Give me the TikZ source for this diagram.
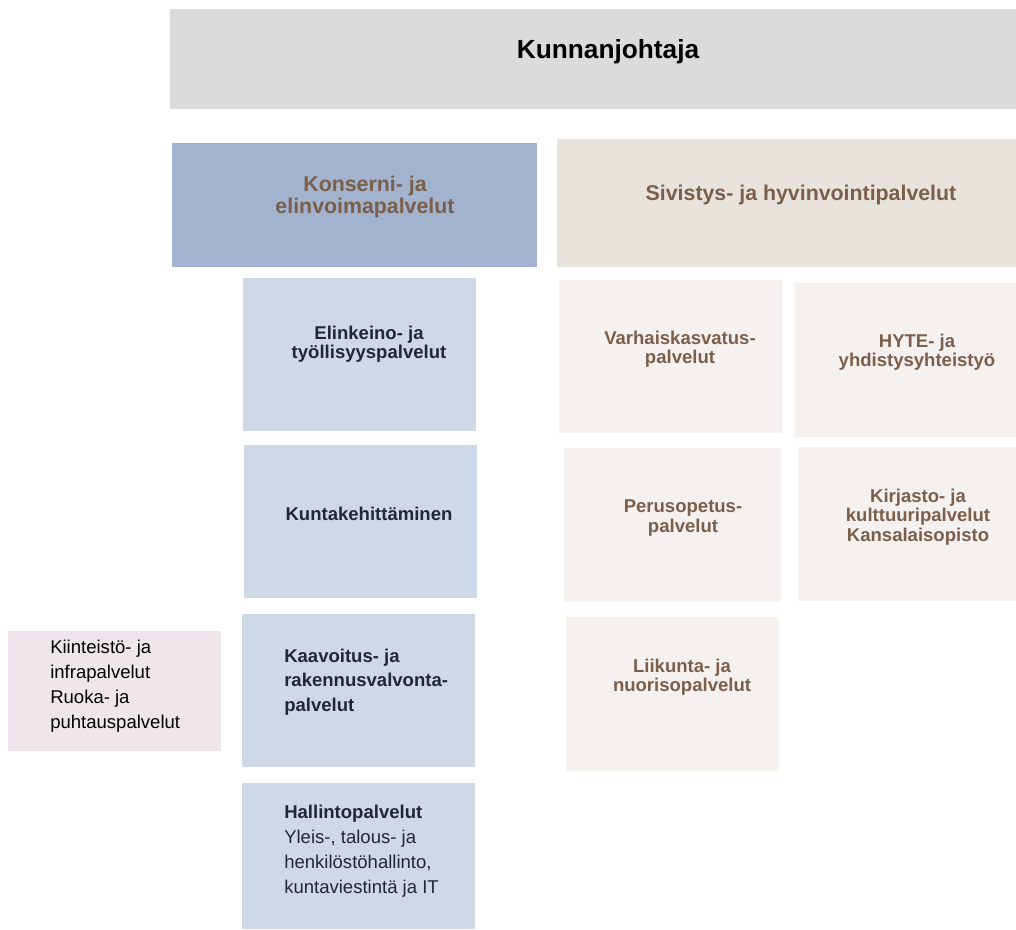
\documentclass[tikz,border=0pt]{standalone}
\usepackage{fontspec}
\setmainfont{Liberation Sans}
\definecolor{bossgray}{HTML}{DADBDD}
\definecolor{konserniblue}{HTML}{A2B3CD}
\definecolor{sivistysbeige}{HTML}{E8E3DD}
\definecolor{unitblue}{HTML}{CFD8E6}
\definecolor{unitbeige}{HTML}{F4F1EE}
\definecolor{outpink}{HTML}{F1E5EC}
\definecolor{brownink}{HTML}{7B5F4B}
\definecolor{navyink}{HTML}{1F2838}
\tikzset{
  cell/.style 2 args={
    anchor=north west,
    inner sep=0pt,
    minimum width={#1*0.75pt},
    minimum height={#2*0.75pt}
  },
  bosstxt/.style={font=\bfseries\fontsize{19.7pt}{23pt}\selectfont, text=black},
  sectortxt/.style={font=\bfseries\fontsize{16pt}{17pt}\selectfont, text=brownink, align=center},
  bluetxt/.style={font=\bfseries\fontsize{13.9pt}{14.5pt}\selectfont, text=navyink, align=center},
  bluelist/.style={font=\fontsize{13.9pt}{18.6pt}\selectfont, text=navyink, align=left, anchor=west, inner sep=0pt},
  beigetxt/.style={font=\bfseries\fontsize{13.9pt}{14.6pt}\selectfont, text=brownink, align=center},
  pinktxt/.style={font=\fontsize{13.9pt}{18.6pt}\selectfont, text=black, align=left, anchor=west, inner sep=0pt}
}

\begin{document}
\begin{tikzpicture}[x=0.75pt, y=-0.75pt]
  \useasboundingbox (0,0) rectangle (1016,929);
  % johto ja toimialat
  \node[cell={846}{100}, fill=bossgray]       (johtaja)   at (170,9) {};
  \node[cell={365}{124}, fill=konserniblue]   (konserni)  at (172,143) {};
  \node[cell={459}{128}, fill=sivistysbeige]  (sivistys)  at (557,139) {};
  \node[bosstxt]   at (608,52)  {Kunnanjohtaja};
  \node[sectortxt] at (365,197) {Konserni- ja\\elinvoimapalvelut};
  \node[sectortxt] at (801,195) {Sivistys- ja hyvinvointipalvelut};
  % konserni- ja elinvoimapalvelut
  \node[cell={233}{153}, fill=unitblue] (elinkeino) at (243,278) {};
  \node[cell={233}{153}, fill=unitblue] (kehitys)   at (244,445) {};
  \node[cell={233}{153}, fill=unitblue] (kaavoitus) at (242,614) {};
  \node[cell={233}{146}, fill=unitblue] (hallinto)  at (242,783) {};
  \node[cell={213}{120}, fill=outpink]  (kiinteisto) at (8,631) {};
  \node[bluetxt] at (369,344) {Elinkeino- ja\\työllisyyspalvelut};
  \node[bluetxt] at (369,514) {Kuntakehittäminen};
  \node[bluelist, font=\bfseries\fontsize{13.9pt}{18.6pt}\selectfont] at (284,682)
    {Kaavoitus- ja\\rakennusvalvonta-\\palvelut};
  \node[bluelist] at (284,851)
    {\textbf{Hallintopalvelut}\\Yleis-, talous- ja\\henkilöstöhallinto,\\kuntaviestintä ja IT};
  \node[pinktxt] at (50,686) {Kiinteistö- ja\\infrapalvelut\\Ruoka- ja\\puhtauspalvelut};
  % sivistys- ja hyvinvointipalvelut
  \node[cell={223}{153}, fill=unitbeige] (varhais)  at (559,280) {};
  \node[cell={221}{154}, fill=unitbeige] (hyte)     at (795,283) {};
  \node[cell={217}{154}, fill=unitbeige] (perus)    at (564,448) {};
  \node[cell={218}{154}, fill=unitbeige] (kirjasto) at (798,447) {};
  \node[cell={213}{154}, fill=unitbeige] (liikunta) at (566,617) {};
  \node[beigetxt] at (680,349) {Varhaiskasvatus-\\palvelut};
  \node[beigetxt] at (917,352) {HYTE- ja\\yhdistysyhteistyö};
  \node[beigetxt] at (683,518) {Perusopetus-\\palvelut};
  \node[beigetxt] at (918,517) {Kirjasto- ja\\kulttuuripalvelut\\Kansalaisopisto};
  \node[beigetxt] at (682,677) {Liikunta- ja\\nuorisopalvelut};
\end{tikzpicture}
\end{document}
